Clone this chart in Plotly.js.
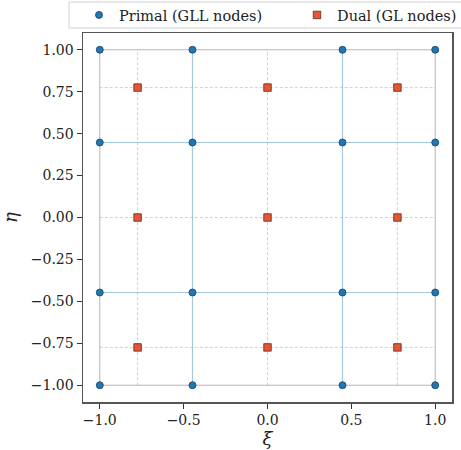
<!DOCTYPE html>
<html><head><meta charset="utf-8">
<script src="https://cdn.plot.ly/plotly-3.0.1.min.js"></script>
<style>body{margin:0;}#c{width:461px;height:450px;}</style>
</head><body><div id="c"></div>
<script>
const primalNodes = [-1.0, -0.4472, 0.4472, 1.0];
const dualNodes = [-0.7746, 0.0, 0.7746];
const dualEdges = [-1.0, -0.7746, 0.0, 0.7746, 1.0];
const xTicks = [-1.0, -0.5, 0.0, 0.5, 1.0];
const xTickText = ['\u22121.0', '\u22120.5', '0.0', '0.5', '1.0'];
const yTicks = [-1.0, -0.75, -0.5, -0.25, 0.0, 0.25, 0.5, 0.75, 1.0];
const yTickText = ['\u22121.00', '\u22120.75', '\u22120.50', '\u22120.25', '0.00', '0.25', '0.50', '0.75', '1.00'];

function gridLines(vals, lo, hi) {
  const xs = [], ys = [];
  vals.forEach(v => { xs.push(v, v, null); ys.push(lo, hi, null); });
  vals.forEach(v => { xs.push(lo, hi, null); ys.push(v, v, null); });
  return {xs, ys};
}
const lo = primalNodes[0], hi = primalNodes[primalNodes.length - 1];
const pg = gridLines(primalNodes.slice(1, -1), lo, hi);
const bg = gridLines([lo, hi], lo, hi);
const dg = gridLines(dualEdges.slice(1, -1), lo, hi);

const px = [], py = [];
primalNodes.forEach(y => primalNodes.forEach(x => { px.push(x); py.push(y); }));
const dx = [], dy = [];
dualNodes.forEach(y => dualNodes.forEach(x => { dx.push(x); dy.push(y); }));

const traces = [
  {x: bg.xs, y: bg.ys, mode: 'lines', line: {color: 'rgba(170,150,155,0.75)', width: 1}, showlegend: false, hoverinfo: 'skip'},
  {x: pg.xs, y: pg.ys, mode: 'lines', line: {color: 'rgba(31,119,180,0.4)', width: 1.2}, showlegend: false, hoverinfo: 'skip'},
  {x: dg.xs, y: dg.ys, mode: 'lines', line: {color: 'rgba(228,86,53,0.45)', width: 0.8, dash: '3px,2px'}, showlegend: false, hoverinfo: 'skip'},
  {x: px, y: py, mode: 'markers', name: 'Primal (GLL nodes)', legend: 'legend',
   marker: {symbol: 'circle', size: 7, color: '#1f77b4', line: {color: '#1a3d5c', width: 0.8}}},
  {x: dx, y: dy, mode: 'markers', name: 'Dual (GL nodes)', legend: 'legend2',
   marker: {symbol: 'square', size: 7.5, color: '#e45635', line: {color: '#5a2a20', width: 0.8}}}
];

const axisCommon = {
  range: [-1.1, 1.1], showgrid: false, zeroline: false,
  showline: true, mirror: true, linecolor: '#555', linewidth: 1.5,
  ticks: 'outside', ticklen: 5, tickwidth: 1, tickcolor: '#333',
  tickfont: {family: 'DejaVu Serif', size: 14, color: '#222'}
};

const legendFont = {family: 'DejaVu Serif', size: 14.5, color: '#222'};
const W = 461, H = 450;
const layout = {
  width: W, height: H,
  margin: {l: 83, r: 9, t: 33, b: 48},
  paper_bgcolor: 'white', plot_bgcolor: 'white',
  font: {family: 'DejaVu Serif', color: '#222'},
  xaxis: Object.assign({}, axisCommon, {tickvals: xTicks, ticktext: xTickText,
    title: {text: '<i>ξ</i>', font: {family: 'DejaVu Serif', size: 18}, standoff: 2}}),
  yaxis: Object.assign({}, axisCommon, {tickvals: yTicks, ticktext: yTickText,
    title: {text: '<i>η</i>', font: {family: 'DejaVu Serif', size: 18}, standoff: 10}}),
  shapes: [{type: 'rect', xref: 'paper', yref: 'paper',
    x0: (69 - 83) / 369, x1: (466 - 83) / 369, y0: 1 - (28 - 33) / 369, y1: 1 - (2 - 33) / 369,
    line: {color: '#d0d0d0', width: 1}, fillcolor: 'rgba(255,255,255,0.8)', layer: 'above'}],
  legend: {orientation: 'h', xref: 'container', yref: 'container',
    x: 79 / W, xanchor: 'left', y: 1 - 15 / H, yanchor: 'middle',
    borderwidth: 0, bgcolor: 'rgba(0,0,0,0)', font: legendFont},
  legend2: {orientation: 'h', xref: 'container', yref: 'container',
    x: 297 / W, xanchor: 'left', y: 1 - 15 / H, yanchor: 'middle',
    borderwidth: 0, bgcolor: 'rgba(0,0,0,0)', font: legendFont},
  showlegend: true
};
Plotly.newPlot('c', traces, layout, {displayModeBar: false, staticPlot: true});
</script></body></html>
